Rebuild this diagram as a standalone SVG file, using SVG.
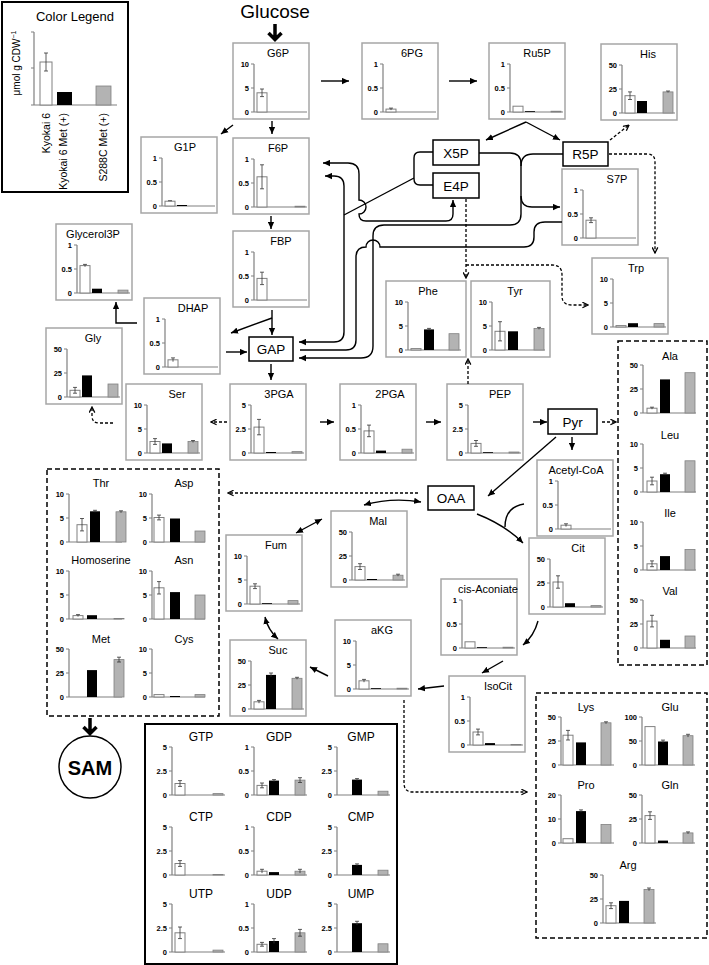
<svg xmlns="http://www.w3.org/2000/svg" xmlns:xlink="http://www.w3.org/1999/xlink" width="709" height="965" viewBox="0 0 709 965">
<style>
text{font-family:"Liberation Sans",Arial,sans-serif;fill:#000}
.box{fill:#fff;stroke:#a6a6a6;stroke-width:1.5}
.nb{fill:#fff;stroke:#000;stroke-width:1.5}
.db{fill:none;stroke:#000;stroke-width:1.5;stroke-dasharray:5,3}
.t{font-size:11px;text-anchor:middle}
.n{font-size:13.5px;text-anchor:middle}
.tk{font-size:7.5px;font-weight:bold;text-anchor:end}
.ax{fill:none;stroke:#808080;stroke-width:1.2}
.w{fill:#fff;stroke:#808080;stroke-width:1}
.k{fill:#000}
.g{fill:#b3b3b3;stroke:#808080;stroke-width:.8}
.er{fill:none;stroke:#333;stroke-width:.8}
.c{fill:none;stroke:#000;stroke-width:1.4}
.d{fill:none;stroke:#000;stroke-width:1.3;stroke-dasharray:3,2}
</style>
<defs>
<marker id="a" viewBox="0 0 10 10" refX="10" refY="5" markerWidth="7" markerHeight="7" markerUnits="userSpaceOnUse" orient="auto-start-reverse"><path d="M0,0.5L10,5L0,9.5z" fill="#000"/></marker>
<marker id="v" viewBox="0 0 10 10" refX="9" refY="5" markerWidth="7" markerHeight="7" markerUnits="userSpaceOnUse" orient="auto-start-reverse"><path d="M1,1L9,5L1,9" fill="none" stroke="#000" stroke-width="1.8"/></marker>
<rect id="bx" class="box" x="-21" y="-69" width="76" height="76"/>
<g id="s10"><path class="ax" d="M0,-48V0H53M-3,-48H0M-3,-24H0M-3,0H0"/><text class="tk" x="-5" y="-45.3">10</text><text class="tk" x="-5" y="-21.3">5</text><text class="tk" x="-5" y="2.7">0</text></g>
<g id="s1"><path class="ax" d="M0,-48V0H53M-3,-48H0M-3,-24H0M-3,0H0"/><text class="tk" x="-5" y="-45.3">1</text><text class="tk" x="-5" y="-21.3">0.5</text><text class="tk" x="-5" y="2.7">0</text></g>
<g id="s50"><path class="ax" d="M0,-48V0H53M-3,-48H0M-3,-24H0M-3,0H0"/><text class="tk" x="-5" y="-45.3">50</text><text class="tk" x="-5" y="-21.3">25</text><text class="tk" x="-5" y="2.7">0</text></g>
<g id="s5"><path class="ax" d="M0,-48V0H53M-3,-48H0M-3,-24H0M-3,0H0"/><text class="tk" x="-5" y="-45.3">5</text><text class="tk" x="-5" y="-21.3">2.5</text><text class="tk" x="-5" y="2.7">0</text></g>
<g id="s20"><path class="ax" d="M0,-48V0H53M-3,-48H0M-3,-24H0M-3,0H0"/><text class="tk" x="-5" y="-45.3">20</text><text class="tk" x="-5" y="-21.3">10</text><text class="tk" x="-5" y="2.7">0</text></g>
<g id="s100"><path class="ax" d="M0,-48V0H53M-3,-48H0M-3,-24H0M-3,0H0"/><text class="tk" x="-5" y="-45.3">100</text><text class="tk" x="-5" y="-21.3">50</text><text class="tk" x="-5" y="2.7">0</text></g>
</defs>
<rect width="709" height="965" fill="#fff"/>

<g id="legend">
<rect x="2" y="2" width="126" height="190" fill="#fff" stroke="#000" stroke-width="2"/>
<text x="75" y="21" font-size="13" text-anchor="middle">Color Legend</text>
<path class="ax" d="M34,32V105H117M31,32H34M31,68H34M31,105H34"/>
<rect class="w" x="40" y="62" width="12" height="43"/>
<path class="er" d="M46,53V71M44,53H48M44,71H48"/>
<rect class="k" x="57" y="92" width="15" height="13"/>
<rect class="g" x="96" y="86" width="15" height="19"/>
<text transform="translate(20,63) rotate(-90)" text-anchor="middle" font-size="10">μmol g CDW<tspan font-size="7" dy="-4">−1</tspan></text>
<text transform="translate(50,113) rotate(-90)" text-anchor="end" font-size="10.5">Kyokai 6</text>
<text transform="translate(67,113) rotate(-90)" text-anchor="end" font-size="10.5">Kyokai 6 Met (+)</text>
<text transform="translate(107,113) rotate(-90)" text-anchor="end" font-size="10.5">S288C Met (+)</text>
</g>

<g id="glucose"><text x="275" y="18" font-size="19" text-anchor="middle">Glucose</text></g>

<g id="g6p" transform="translate(254,112)"><use href="#bx"/><use href="#s10"/><text class="t" x="24" y="-55">G6P</text><rect class="w" x="3" y="-19.2" width="10" height="19.2"/><path class="er" d="M8,-23V-15.4M6,-23H10M6,-15.4H10"/></g>
<g id="n6pg" transform="translate(383,112)"><use href="#bx"/><use href="#s1"/><text class="t" x="29" y="-55">6PG</text><rect class="w" x="3" y="-2.9" width="10" height="2.9"/><path class="er" d="M8,-3.9V-1.9M6,-3.9H10"/></g>
<g id="ru5p" transform="translate(510,112)"><use href="#bx"/><use href="#s1"/><text class="t" x="27" y="-55">Ru5P</text><rect class="w" x="3" y="-5.8" width="10" height="5.8"/><rect class="k" x="15" y="-0.8" width="10" height="0.8"/><rect class="g" x="41" y="-0.8" width="10" height="0.8"/></g>
<g id="his" transform="translate(622,113)"><use href="#bx"/><use href="#s50"/><text class="t" x="26" y="-55">His</text><rect class="w" x="3" y="-17.3" width="10" height="17.3"/><path class="er" d="M8,-21.1V-13.5M6,-21.1H10M6,-13.5H10"/><rect class="k" x="15" y="-12" width="10" height="12"/><rect class="g" x="41" y="-21.1" width="10" height="21.1"/><path class="er" d="M46,-22V-20.5M44,-22H48"/></g>
<g id="g1p" transform="translate(162,206)"><use href="#bx"/><use href="#s1"/><text class="t" x="23" y="-55">G1P</text><rect class="w" x="3" y="-4.8" width="10" height="4.8"/><path class="er" d="M6,-5.3H10"/><rect class="k" x="15" y="-1" width="10" height="1"/></g>
<g id="f6p" transform="translate(254,207)"><use href="#bx"/><use href="#s1"/><text class="t" x="24" y="-55">F6P</text><rect class="w" x="3" y="-30.2" width="10" height="30.2"/><path class="er" d="M8,-42.2V-18.2M6,-42.2H10M6,-18.2H10"/><rect class="g" x="41" y="-0.8" width="10" height="0.8"/></g>
<g id="s7p" transform="translate(583,238)"><use href="#bx"/><use href="#s1"/><text class="t" x="34" y="-55">S7P</text><rect class="w" x="3" y="-17.8" width="10" height="17.8"/><path class="er" d="M8,-20.2V-15.4M6,-20.2H10M6,-15.4H10"/></g>
<g id="fbp" transform="translate(254,300)"><use href="#bx"/><use href="#s1"/><text class="t" x="27" y="-55">FBP</text><rect class="w" x="3" y="-21.6" width="10" height="21.6"/><path class="er" d="M8,-27.8V-15.4M6,-27.8H10M6,-15.4H10"/></g>
<g id="glycerol3p" transform="translate(77,293)"><use href="#bx"/><use href="#s1"/><text class="t" x="16" y="-55">Glycerol3P</text><rect class="w" x="3" y="-27.4" width="10" height="27.4"/><path class="er" d="M8,-28.6V-26.2M6,-28.6H10"/><rect class="k" x="15" y="-4.3" width="10" height="4.3"/><rect class="g" x="41" y="-2.9" width="10" height="2.9"/></g>
<g id="dhap" transform="translate(165,367)"><use href="#bx"/><use href="#s1"/><text class="t" x="28" y="-55">DHAP</text><rect class="w" x="3" y="-7.2" width="10" height="7.2"/><path class="er" d="M8,-9.1V-5.3M6,-9.1H10"/></g>
<g id="gly" transform="translate(67,397)"><use href="#bx"/><use href="#s50"/><text class="t" x="26" y="-55">Gly</text><rect class="w" x="3" y="-6.7" width="10" height="6.7"/><path class="er" d="M8,-9.6V-3.8M6,-9.6H10M6,-3.8H10"/><rect class="k" x="15" y="-21.6" width="10" height="21.6"/><rect class="g" x="41" y="-13" width="10" height="13"/></g>
<g id="ser" transform="translate(147,453)"><use href="#bx"/><use href="#s10"/><text class="t" x="30" y="-55">Ser</text><rect class="w" x="3" y="-11.5" width="10" height="11.5"/><path class="er" d="M8,-14.4V-8.6M6,-14.4H10M6,-8.6H10"/><rect class="k" x="15" y="-9.6" width="10" height="9.6"/><rect class="g" x="41" y="-11.5" width="10" height="11.5"/><path class="er" d="M46,-12.5V-10.5M44,-12.5H48"/></g>
<g id="pga3" transform="translate(251,453)"><use href="#bx"/><use href="#s5"/><text class="t" x="28" y="-55">3PGA</text><rect class="w" x="3" y="-25.9" width="10" height="25.9"/><path class="er" d="M8,-33.6V-18.2M6,-33.6H10M6,-18.2H10"/><rect class="k" x="15" y="-1" width="10" height="1"/><rect class="g" x="41" y="-1.4" width="10" height="1.4"/></g>
<g id="pga2" transform="translate(361,453)"><use href="#bx"/><use href="#s1"/><text class="t" x="29" y="-55">2PGA</text><rect class="w" x="3" y="-22.1" width="10" height="22.1"/><path class="er" d="M8,-27.9V-16.3M6,-27.9H10M6,-16.3H10"/><rect class="k" x="15" y="-2.4" width="10" height="2.4"/><rect class="g" x="41" y="-3.8" width="10" height="3.8"/></g>
<g id="pep" transform="translate(468,453)"><use href="#bx"/><use href="#s5"/><text class="t" x="32" y="-55">PEP</text><rect class="w" x="3" y="-9.6" width="10" height="9.6"/><path class="er" d="M8,-12.5V-6.7M6,-12.5H10M6,-6.7H10"/><rect class="k" x="15" y="-0.8" width="10" height="0.8"/><rect class="g" x="41" y="-1" width="10" height="1"/></g>
<g id="phe" transform="translate(408,350)"><rect class="box" x="-22" y="-69" width="80" height="76"/><use href="#s10"/><text class="t" x="20" y="-55">Phe</text><rect class="w" x="3" y="-1.4" width="10" height="1.4"/><rect class="k" x="16" y="-20.6" width="10" height="20.6"/><path class="er" d="M21,-21.6V-19.6M19,-21.6H23"/><rect class="g" x="41" y="-16.3" width="10" height="16.3"/></g>
<g id="tyr" transform="translate(492,350)"><rect class="box" x="-21" y="-69" width="79" height="76"/><use href="#s10"/><text class="t" x="23" y="-55">Tyr</text><rect class="w" x="3" y="-18.7" width="10" height="18.7"/><path class="er" d="M8,-28.3V-9.1M6,-28.3H10M6,-9.1H10"/><rect class="k" x="16" y="-18.7" width="10" height="18.7"/><rect class="g" x="42" y="-21.6" width="10" height="21.6"/><path class="er" d="M47,-22.6V-20.6M45,-22.6H49"/></g>
<g id="trp" transform="translate(613,327)"><use href="#bx"/><use href="#s10"/><text class="t" x="23" y="-55">Trp</text><rect class="w" x="3" y="-1.4" width="10" height="1.4"/><rect class="k" x="15" y="-3.8" width="10" height="3.8"/><rect class="g" x="41" y="-3.4" width="10" height="3.4"/></g>
<g id="acetylcoa" transform="translate(558,529)"><use href="#bx"/><use href="#s1"/><text class="t" x="18" y="-55">Acetyl-CoA</text><rect class="w" x="3" y="-3.8" width="10" height="3.8"/><path class="er" d="M8,-5.2V-2.4M6,-5.2H10"/></g>
<g id="cit" transform="translate(550,607)"><use href="#bx"/><use href="#s50"/><text class="t" x="28" y="-55">Cit</text><rect class="w" x="3" y="-25" width="10" height="25"/><path class="er" d="M8,-31.2V-18.8M6,-31.2H10M6,-18.8H10"/><rect class="k" x="15" y="-3.8" width="10" height="3.8"/><rect class="g" x="41" y="-1.4" width="10" height="1.4"/></g>
<g id="cisaconiate" transform="translate(462,648)"><use href="#bx"/><use href="#s1"/><text class="t" x="26" y="-55">cis-Aconiate</text><rect class="w" x="3" y="-6.2" width="10" height="6.2"/><rect class="k" x="15" y="-0.8" width="10" height="0.8"/><rect class="g" x="41" y="-0.8" width="10" height="0.8"/></g>
<g id="isocit" transform="translate(470,745)"><use href="#bx"/><use href="#s1"/><text class="t" x="28" y="-55">IsoCit</text><rect class="w" x="3" y="-13" width="10" height="13"/><path class="er" d="M8,-15.9V-10.1M6,-15.9H10M6,-10.1H10"/><rect class="k" x="15" y="-1.9" width="10" height="1.9"/><rect class="g" x="41" y="-0.6" width="10" height="0.6"/></g>
<g id="akg" transform="translate(356,689)"><use href="#bx"/><use href="#s10"/><text class="t" x="26" y="-55">aKG</text><rect class="w" x="3" y="-8.2" width="10" height="8.2"/><path class="er" d="M8,-9.6V-6.8M6,-9.6H10"/><rect class="k" x="15" y="-0.8" width="10" height="0.8"/><rect class="g" x="41" y="-0.8" width="10" height="0.8"/></g>
<g id="suc" transform="translate(251,709)"><use href="#bx"/><use href="#s50"/><text class="t" x="27" y="-55">Suc</text><rect class="w" x="3" y="-7.2" width="10" height="7.2"/><path class="er" d="M8,-8.6V-5.8M6,-8.6H10"/><rect class="k" x="15" y="-34.1" width="10" height="34.1"/><path class="er" d="M20,-36V-32.2M18,-36H22"/><rect class="g" x="41" y="-30.7" width="10" height="30.7"/><path class="er" d="M46,-31.7V-29.7M44,-31.7H48"/></g>
<g id="fum" transform="translate(247,604)"><use href="#bx"/><use href="#s10"/><text class="t" x="29" y="-55">Fum</text><rect class="w" x="3" y="-17.8" width="10" height="17.8"/><path class="er" d="M8,-20.2V-15.4M6,-20.2H10M6,-15.4H10"/><rect class="k" x="15" y="-0.8" width="10" height="0.8"/><rect class="g" x="41" y="-3.4" width="10" height="3.4"/></g>
<g id="mal" transform="translate(352,580)"><use href="#bx"/><use href="#s50"/><text class="t" x="26" y="-55">Mal</text><rect class="w" x="3" y="-13.4" width="10" height="13.4"/><path class="er" d="M8,-16.3V-10.5M6,-16.3H10M6,-10.5H10"/><rect class="k" x="15" y="-1" width="10" height="1"/><rect class="g" x="41" y="-4.8" width="10" height="4.8"/><path class="er" d="M46,-5.8V-3.8M44,-5.8H48"/></g>

<g id="x5p"><rect class="nb" x="433" y="140" width="46" height="25"/><text class="n" x="456" y="157.5">X5P</text></g>
<g id="e4p"><rect class="nb" x="433" y="173" width="46" height="25"/><text class="n" x="456" y="190.5">E4P</text></g>
<g id="r5p"><rect class="nb" x="563" y="142" width="45" height="24"/><text class="n" x="585.5" y="159">R5P</text></g>
<g id="gap"><rect class="nb" x="249" y="337" width="44" height="24"/><text class="n" x="271" y="354">GAP</text></g>
<g id="pyr"><rect class="nb" x="548" y="409" width="49" height="25"/><text class="n" x="572.5" y="426.5">Pyr</text></g>
<g id="oaa"><rect class="nb" x="428" y="486" width="46" height="24"/><text class="n" x="451" y="503">OAA</text></g>

<g id="aa-group-ala">
<rect class="db" x="618" y="341" width="89" height="324"/>
<g id="ala" transform="translate(643,413)"><use href="#s50"/><text class="t" x="27" y="-53">Ala</text><rect class="w" x="4" y="-4.8" width="10" height="4.8"/><path class="er" d="M9,-5.8V-3.8M7,-5.8H11"/><rect class="k" x="17" y="-33.6" width="10" height="33.6"/><rect class="g" x="42" y="-40.3" width="10" height="40.3"/></g>
<g id="leu" transform="translate(643,492)"><use href="#s10"/><text class="t" x="27" y="-53">Leu</text><rect class="w" x="4" y="-11" width="10" height="11"/><path class="er" d="M9,-14.8V-7.2M7,-14.8H11M7,-7.2H11"/><rect class="k" x="17" y="-17.8" width="10" height="17.8"/><path class="er" d="M22,-18.8V-16.8M20,-18.8H24"/><rect class="g" x="42" y="-31.2" width="10" height="31.2"/></g>
<g id="ile" transform="translate(643,570)"><use href="#s10"/><text class="t" x="27" y="-53">Ile</text><rect class="w" x="4" y="-6.2" width="10" height="6.2"/><path class="er" d="M9,-9.1V-3.3M7,-9.1H11M7,-3.3H11"/><rect class="k" x="17" y="-13.9" width="10" height="13.9"/><rect class="g" x="42" y="-20.6" width="10" height="20.6"/></g>
<g id="val" transform="translate(643,648)"><use href="#s50"/><text class="t" x="27" y="-53">Val</text><rect class="w" x="4" y="-26.9" width="10" height="26.9"/><path class="er" d="M9,-32.7V-21.1M7,-32.7H11M7,-21.1H11"/><rect class="k" x="17" y="-8.2" width="10" height="8.2"/><rect class="g" x="42" y="-12" width="10" height="12"/></g>
</g>

<g id="aa-group-thr">
<rect class="db" x="47" y="469" width="172" height="247"/>
<g id="thr" transform="translate(69,542)"><use href="#s10"/><text class="t" x="32" y="-55">Thr</text><rect class="w" x="8" y="-17.3" width="10" height="17.3"/><path class="er" d="M13,-23.5V-11.1M11,-23.5H15M11,-11.1H15"/><rect class="k" x="21" y="-30.7" width="10" height="30.7"/><path class="er" d="M26,-31.7V-29.7M24,-31.7H28"/><rect class="g" x="47" y="-30.2" width="10" height="30.2"/><path class="er" d="M52,-31.2V-29.2M50,-31.2H54"/></g>
<g id="asp" transform="translate(152,542)"><use href="#s10"/><text class="t" x="32" y="-55">Asp</text><rect class="w" x="2" y="-24.5" width="10" height="24.5"/><path class="er" d="M7,-26.9V-22.1M5,-26.9H9M5,-22.1H9"/><rect class="k" x="18" y="-23.5" width="10" height="23.5"/><rect class="g" x="43" y="-11" width="10" height="11"/></g>
<g id="homoserine" transform="translate(69,619)"><use href="#s10"/><text class="t" x="32" y="-55">Homoserine</text><rect class="w" x="4" y="-3.4" width="10" height="3.4"/><path class="er" d="M9,-4.4V-2.4M7,-4.4H11"/><rect class="k" x="18" y="-3.8" width="10" height="3.8"/><rect class="g" x="45" y="-0.6" width="10" height="0.6"/></g>
<g id="asn" transform="translate(152,619)"><use href="#s10"/><text class="t" x="32" y="-55">Asn</text><rect class="w" x="2" y="-31.2" width="10" height="31.2"/><path class="er" d="M7,-37.4V-25M5,-37.4H9M5,-25H9"/><rect class="k" x="18" y="-26.9" width="10" height="26.9"/><rect class="g" x="43" y="-24" width="10" height="24"/></g>
<g id="met" transform="translate(69,697)"><use href="#s50"/><text class="t" x="32" y="-54">Met</text><rect class="k" x="18" y="-26.9" width="10" height="26.9"/><rect class="g" x="45" y="-37.4" width="10" height="37.4"/><path class="er" d="M50,-39.8V-35M48,-39.8H52M48,-35H52"/></g>
<g id="cys" transform="translate(152,697)"><use href="#s10"/><text class="t" x="32" y="-54">Cys</text><rect class="w" x="2" y="-2.4" width="10" height="2.4"/><rect class="k" x="18" y="-1" width="10" height="1"/><rect class="g" x="43" y="-2.4" width="10" height="2.4"/></g>
</g>

<g id="sam"><circle cx="90" cy="767" r="31" fill="#fff" stroke="#000" stroke-width="1.5"/><text x="90" y="774.5" font-size="20" font-weight="bold" text-anchor="middle">SAM</text></g>

<g id="nucleotides">
<rect x="145" y="724" width="252" height="240" fill="none" stroke="#000" stroke-width="2"/>
<g id="gtp" transform="translate(172,795)"><use href="#s5"/><text x="29" y="-54" font-size="12" text-anchor="middle">GTP</text><rect class="w" x="3" y="-11.5" width="10" height="11.5"/><path class="er" d="M8,-14.4V-8.6M6,-14.4H10M6,-8.6H10"/><rect class="g" x="41" y="-1.4" width="10" height="1.4"/></g>
<g id="gdp" transform="translate(254,795)"><use href="#s1"/><text x="25" y="-54" font-size="12" text-anchor="middle">GDP</text><rect class="w" x="3" y="-9.6" width="10" height="9.6"/><path class="er" d="M8,-12V-7.2M6,-12H10M6,-7.2H10"/><rect class="k" x="15" y="-14.4" width="10" height="14.4"/><path class="er" d="M20,-15.4V-13.4M18,-15.4H22"/><rect class="g" x="41" y="-14.9" width="10" height="14.9"/><path class="er" d="M46,-17.3V-12.5M44,-17.3H48M44,-12.5H48"/></g>
<g id="gmp" transform="translate(337,795)"><use href="#s5"/><text x="24" y="-54" font-size="12" text-anchor="middle">GMP</text><rect class="k" x="15" y="-15.4" width="10" height="15.4"/><path class="er" d="M20,-16.4V-14.4M18,-16.4H22"/><rect class="g" x="41" y="-3.8" width="10" height="3.8"/></g>
<g id="ctp" transform="translate(172,875)"><use href="#s5"/><text x="29" y="-54" font-size="12" text-anchor="middle">CTP</text><rect class="w" x="3" y="-11.5" width="10" height="11.5"/><path class="er" d="M8,-14.4V-8.6M6,-14.4H10M6,-8.6H10"/><rect class="g" x="41" y="-0.6" width="10" height="0.6"/></g>
<g id="cdp" transform="translate(254,875)"><use href="#s1"/><text x="25" y="-54" font-size="12" text-anchor="middle">CDP</text><rect class="w" x="3" y="-3.8" width="10" height="3.8"/><path class="er" d="M8,-5.7V-1.9M6,-5.7H10"/><rect class="k" x="15" y="-2.9" width="10" height="2.9"/><rect class="g" x="41" y="-3.8" width="10" height="3.8"/><path class="er" d="M46,-5.7V-1.9M44,-5.7H48"/></g>
<g id="cmp" transform="translate(337,875)"><use href="#s5"/><text x="24" y="-54" font-size="12" text-anchor="middle">CMP</text><rect class="k" x="15" y="-10.1" width="10" height="10.1"/><path class="er" d="M20,-11.1V-9.1M18,-11.1H22"/><rect class="g" x="41" y="-4.8" width="10" height="4.8"/></g>
<g id="utp" transform="translate(172,952)"><use href="#s5"/><text x="29" y="-54" font-size="12" text-anchor="middle">UTP</text><rect class="w" x="3" y="-19.2" width="10" height="19.2"/><path class="er" d="M8,-25V-13.4M6,-25H10M6,-13.4H10"/><rect class="g" x="41" y="-1.9" width="10" height="1.9"/></g>
<g id="udp" transform="translate(254,952)"><use href="#s1"/><text x="25" y="-54" font-size="12" text-anchor="middle">UDP</text><rect class="w" x="3" y="-7.7" width="10" height="7.7"/><path class="er" d="M8,-9.6V-5.8M6,-9.6H10M6,-5.8H10"/><rect class="k" x="15" y="-11" width="10" height="11"/><path class="er" d="M20,-13.4V-8.6M18,-13.4H22"/><rect class="g" x="41" y="-19.2" width="10" height="19.2"/><path class="er" d="M46,-22.6V-15.8M44,-22.6H48M44,-15.8H48"/></g>
<g id="ump" transform="translate(337,952)"><use href="#s5"/><text x="24" y="-54" font-size="12" text-anchor="middle">UMP</text><rect class="k" x="15" y="-28.8" width="10" height="28.8"/><path class="er" d="M20,-30.7V-26.9M18,-30.7H22"/><rect class="g" x="41" y="-8.2" width="10" height="8.2"/></g>
</g>

<g id="aa-group-lys">
<rect class="db" x="536" y="693" width="171" height="245"/>
<g id="lys" transform="translate(561,765)"><use href="#s50"/><text class="t" x="25" y="-54">Lys</text><rect class="w" x="2" y="-29.8" width="10" height="29.8"/><path class="er" d="M7,-34.6V-25M5,-34.6H9M5,-25H9"/><rect class="k" x="15" y="-22.6" width="10" height="22.6"/><rect class="g" x="40" y="-42.2" width="10" height="42.2"/><path class="er" d="M45,-43.2V-41.2M43,-43.2H47"/></g>
<g id="glu" transform="translate(642,765)"><use href="#s100"/><text class="t" x="28" y="-54">Glu</text><rect class="w" x="3" y="-38.4" width="10" height="38.4"/><rect class="k" x="16" y="-23.5" width="10" height="23.5"/><path class="er" d="M21,-24.9V-22.1M19,-24.9H23"/><rect class="g" x="41" y="-29.3" width="10" height="29.3"/><path class="er" d="M46,-30.7V-27.9M44,-30.7H48"/></g>
<g id="pro" transform="translate(561,843)"><use href="#s20"/><text class="t" x="25" y="-54">Pro</text><rect class="w" x="2" y="-4.3" width="10" height="4.3"/><rect class="k" x="15" y="-31.9" width="10" height="31.9"/><path class="er" d="M20,-33.1V-30.7M18,-33.1H22"/><rect class="g" x="40" y="-18.5" width="10" height="18.5"/></g>
<g id="gln" transform="translate(642,843)"><use href="#s50"/><text class="t" x="28" y="-54">Gln</text><rect class="w" x="3" y="-27.4" width="10" height="27.4"/><path class="er" d="M8,-31.2V-23.6M6,-31.2H10M6,-23.6H10"/><rect class="k" x="16" y="-2.4" width="10" height="2.4"/><rect class="g" x="41" y="-10.1" width="10" height="10.1"/><path class="er" d="M46,-11.1V-9.1M44,-11.1H48"/></g>
<g id="arg" transform="translate(603,923)"><use href="#s50"/><text class="t" x="25" y="-54">Arg</text><rect class="w" x="3" y="-17.3" width="10" height="17.3"/><path class="er" d="M8,-20.2V-14.4M6,-20.2H10M6,-14.4H10"/><rect class="k" x="16" y="-22.1" width="10" height="22.1"/><rect class="g" x="41" y="-33.6" width="10" height="33.6"/><path class="er" d="M46,-35V-32.2M44,-35H48"/></g>
</g>

<g id="connectors">
<path d="M275,24V39M268.5,33L275,39.5L281.5,33" fill="none" stroke="#000" stroke-width="3.5"/>
<path d="M90,718V733M83.5,727L90,733.5L96.5,727" fill="none" stroke="#000" stroke-width="3.5"/>
<path class="c" d="M321,81H349" marker-end="url(#a)"/>
<path class="c" d="M449,81H477" marker-end="url(#a)"/>
<path class="c" d="M233,125L221,134" marker-end="url(#a)"/>
<path class="c" d="M272,121V134" marker-end="url(#a)"/>
<path class="c" d="M526,122L486,140" marker-end="url(#a)"/>
<path class="c" d="M526,122L560,140" marker-end="url(#a)"/>
<path class="c" d="M271,216V229" marker-end="url(#a)"/>
<path class="c" d="M272,310V335" marker-end="url(#a)"/>
<path class="c" d="M272,318L231,333" marker-end="url(#a)"/>
<path class="c" d="M226,352H247" marker-end="url(#a)"/>
<path class="c" d="M137,323H116V302" marker-end="url(#a)"/>
<path class="c" d="M271,364V380" marker-end="url(#a)"/>
<path class="c" d="M320,422H334" marker-end="url(#a)"/>
<path class="c" d="M426,422H441" marker-end="url(#a)"/>
<path class="c" d="M533,422H547" marker-end="url(#a)"/>
<path class="c" d="M572,437V450" marker-end="url(#a)"/>
<path class="c" d="M556,437L488,496" marker-end="url(#a)"/>
<path class="c" d="M477,514Q505,525 523,543" marker-end="url(#a)"/>
<path class="c" d="M524,504Q505,507 505,527"/>
<path class="c" d="M364,505Q392,497 421,502" marker-start="url(#a)" marker-end="url(#a)"/>
<path class="c" d="M296,533L322,519" marker-start="url(#a)" marker-end="url(#a)"/>
<path class="c" d="M265,617Q268,630 278,639" marker-start="url(#a)" marker-end="url(#a)"/>
<path class="c" d="M328,676L310,667" marker-end="url(#a)"/>
<path class="c" d="M444,686L418,689" marker-end="url(#a)"/>
<path class="c" d="M503,661L482,673" marker-end="url(#a)"/>
<path class="c" d="M538,621Q534,636 523,645" marker-end="url(#a)"/>
<path class="c" d="M433,152H420Q414,152 414,158V179Q414,185 420,185H433"/>
<path class="c" d="M414,178L344,215"/>
<path class="c" d="M323,163H348Q359,163 359,174V200A7,7 0 0 1 359,214Q359,221 366,221H446Q453,221 453,214V200" marker-start="url(#a)" marker-end="url(#a)"/>
<path class="c" d="M325,176H334Q344,176 344,186V332Q344,342 334,342H299" marker-start="url(#a)" marker-end="url(#a)"/>
<path class="c" d="M479,153H510Q521,153 521,164V196Q521,207 532,207H560" marker-end="url(#a)"/>
<path class="c" d="M563,154H533Q521,154 521,166"/>
<path class="c" d="M521,196V214Q521,225 510,225H384Q373,225 373,236V346Q373,358 361,358H299" marker-end="url(#a)"/>
<path class="c" d="M562,222H545Q534,222 534,232V237Q534,247 524,247H380A7,7 0 0 0 366,247Q356,247 356,257V340Q356,350 346,350H300"/>
<path class="d" d="M610,140L629,125" marker-end="url(#v)"/>
<path class="d" d="M609,154H647Q655,154 655,162V253" marker-end="url(#v)"/>
<path class="d" d="M466,199V278" marker-end="url(#v)"/>
<path class="d" d="M466,265H552Q562,265 562,275V296Q562,305 572,305H588" marker-end="url(#v)"/>
<path class="d" d="M468,384V359" marker-end="url(#v)"/>
<path class="d" d="M227,422H211" marker-end="url(#v)"/>
<path class="d" d="M113,423H99Q92,423 92,416V407" marker-end="url(#v)"/>
<path class="d" d="M602,422H616" marker-end="url(#v)"/>
<path class="d" d="M418,493H228" marker-end="url(#v)"/>
<path class="d" d="M404,700V783Q404,792 413,792H527" marker-end="url(#v)"/>
</g>
</svg>
